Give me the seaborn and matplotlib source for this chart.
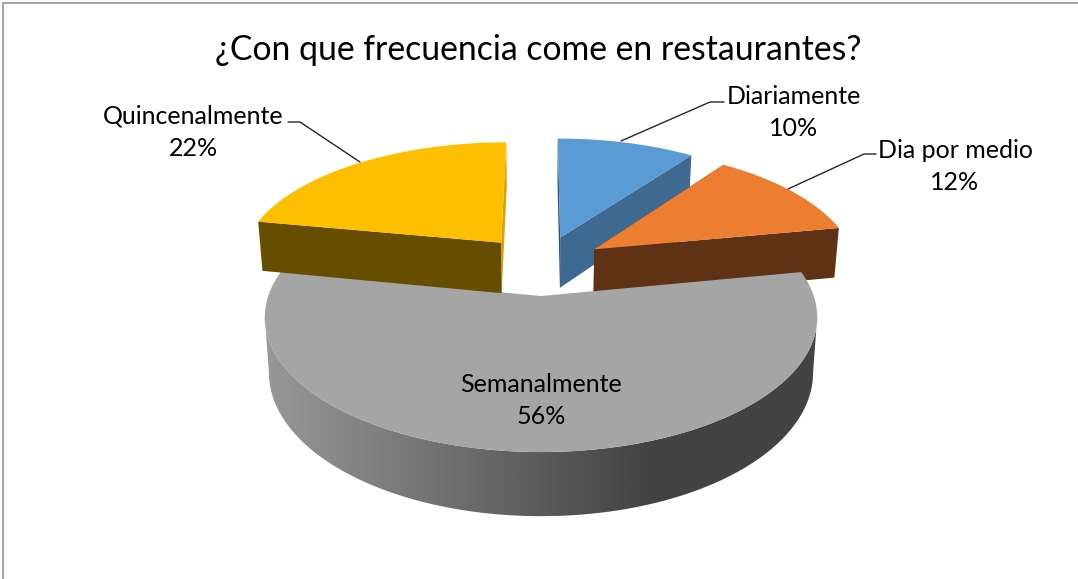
import numpy as np
import matplotlib
matplotlib.use('Agg')
import matplotlib.pyplot as plt
from matplotlib.colors import to_rgb
from matplotlib.patches import Polygon
import seaborn as sns

# values
categories = ['Diariamente', 'Dia por medio', 'Semanalmente', 'Quincenalmente']
values = [10, 12, 56, 22]
top_colors = ['#5b9bd5', '#ed7d31', '#a5a5a5', '#fdbf00']
# colour of the cut at the start and at the end of each slice, clockwise
start_cut_colors = ['#2f5272', '#5f3115', '#a5a5a5', '#674d00']
end_cut_colors = ['#3e6a92', '#5f3115', '#a5a5a5', '#d9a400']
title = '¿Con que frecuencia come en restaurantes?'

# fake 3d camera, fitted to the picture (pixels)
CX, CY = 541, 265
F, G = 262.6, 121.8
P = 0.152
EXPLODE = 0.245
DEPTH = 52
SHRINK = 0.985


def project(x, y, lower=False):
    w = 1 + P * y
    px = F * x / w
    py = -G * y / w
    if lower:
        return CX + px * SHRINK, CY + py + DEPTH / w
    return CX + px, CY + py


def slice_points(a0, a1, off):
    th = np.radians(np.linspace(a0, a1, 120))
    x = np.r_[off[0], off[0] + np.sin(th)]
    y = np.r_[off[1], off[1] + np.cos(th)]
    return np.column_stack(project(x, y))


def cut_wall(angle, off):
    th = np.radians(angle)
    x = np.array([off[0], off[0] + np.sin(th)])
    y = np.array([off[1], off[1] + np.cos(th)])
    up = np.column_stack(project(x, y))
    low = np.column_stack(project(x, y, True))
    return np.vstack([up, low[::-1]])


def round_wall(a0, a1, off):
    # only the front part, from the widest point right to the widest point left
    th = np.radians(np.linspace(a0, a1, 360))
    x = off[0] + np.sin(th)
    y = off[1] + np.cos(th)
    up = np.column_stack(project(x, y))
    low = np.column_stack(project(x, y, True))
    right, left = up[:, 0].argmax(), up[:, 0].argmin()
    return np.vstack([up[right:left + 1], low[right:left + 1][::-1]])


sns.set_theme(style='white')
plt.rcParams['font.family'] = ['Lato', 'DejaVu Sans']

fig = plt.figure(figsize=(10.78, 5.79), dpi=100)
ax = fig.add_axes([0, 0, 1, 1])

# chart frame, only left and top show in the crop
ax.plot([3, 3, 1078], [579, 3, 3], color='#a6a6a6', lw=1.5)

edges = np.r_[0, np.cumsum(values)] / sum(values) * 360
offsets = []
for i in range(len(values)):
    mid = np.radians((edges[i] + edges[i + 1]) / 2)
    offsets.append((EXPLODE * np.sin(mid), EXPLODE * np.cos(mid)))

for i in [0, 1, 3, 2]:
    a0, a1 = edges[i], edges[i + 1]
    off = offsets[i]
    if categories[i] == 'Semanalmente':
        # round outside wall, shaded light on the left to dark on the right
        wall = Polygon(round_wall(a0, a1, off), closed=True, fc='none', ec='none')
        ax.add_patch(wall)
        x0, x1 = wall.get_xy()[:, 0].min() - 1, wall.get_xy()[:, 0].max() + 1
        y0, y1 = wall.get_xy()[:, 1].min() - 1, wall.get_xy()[:, 1].max() + 1
        n_fade = int(650 - x0)
        shades = sns.blend_palette(['#989898', '#434343'], n_fade)
        shades = shades + [to_rgb('#434343')] * (int(x1 - x0) - n_fade)
        img = ax.imshow(np.array(shades)[np.newaxis, :, :], extent=(x0, x1, y1, y0),
                        aspect='auto', interpolation='bilinear', zorder=1 + i * 0.1)
        img.set_clip_path(wall)
    else:
        # draw the nearly hidden cut first, the visible one goes on top
        order = [(a1, end_cut_colors[i]), (a0, start_cut_colors[i])]
        if categories[i] != 'Quincenalmente':
            order = order[::-1]
        for angle, col in order:
            ax.add_patch(Polygon(cut_wall(angle, off), closed=True, fc=col, ec='none', zorder=1 + i * 0.1))
    ax.add_patch(Polygon(slice_points(a0, a1, off), closed=True, fc=top_colors[i], ec='none',
                         zorder=1 + i * 0.1))

# leader lines
ax.plot([621, 710, 724], [141, 102, 102], color='#262626', lw=1, zorder=3)
ax.plot([788, 864, 876], [189, 154, 154], color='#262626', lw=1, zorder=3)
ax.plot([360, 300, 288], [162, 122, 122], color='#262626', lw=1, zorder=3)

ax.text(538, 50, title, fontsize=24.3, ha='center', va='center', color='black', zorder=4)
label_pos = [(794, 96), (955, 151), (541, 384), (193, 116)]
for name, val, (x, y) in zip(categories, values, label_pos):
    ax.text(x, y, name, fontsize=18, ha='center', va='center', color='black', zorder=4)
    ax.text(x, y + 32, f'{val}%', fontsize=18, ha='center', va='center', color='black', zorder=4)

ax.set_xlim(0, 1078)
ax.set_ylim(579, 0)
ax.axis('off')

fig.savefig('out.png', dpi=100)
